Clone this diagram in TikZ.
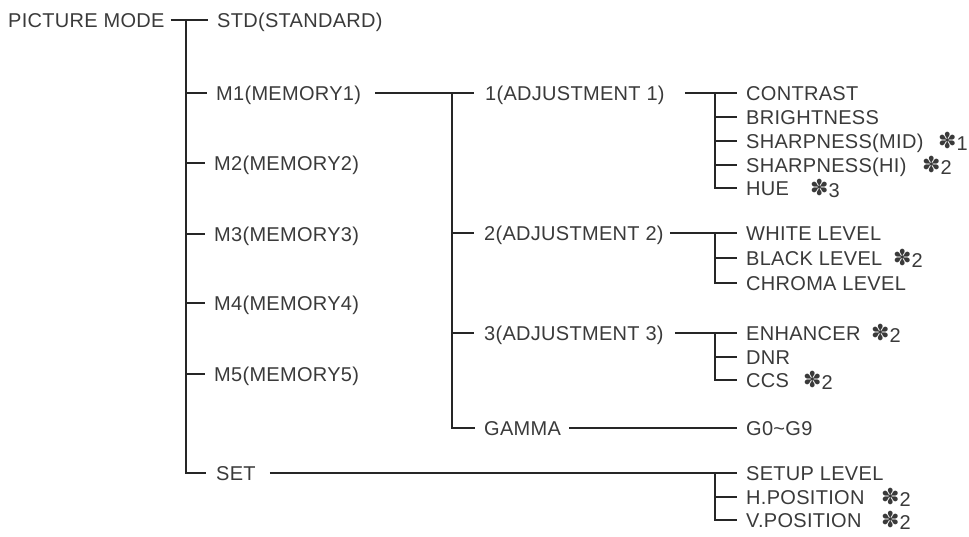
\documentclass[tikz,border=0pt]{standalone}
\usepackage{fontspec}
\setmainfont{Liberation Sans}[LetterSpace=1.5]
\newfontfamily\djv{DejaVu Sans}
\definecolor{txt}{HTML}{3A3A3A}
\tikzset{
  lbl/.style={anchor=west, inner xsep=0pt, inner ysep=0pt, text height=14pt, text depth=0pt,
    font=\fontsize{20}{21}\selectfont, text=txt},
  ln/.style={line width=1.2pt, draw=black!85},
}
\newcommand{\mk}[1]{{\fontsize{22}{22}\djv\raisebox{0pt}{✽}}\raisebox{-2.5pt}{#1}}
\begin{document}
\begin{tikzpicture}[x=1pt,y=-1pt]
\useasboundingbox (0,0) rectangle (969,536);
% level 0/1
\node[lbl] (pm) at (8,20) {PICTURE MODE};
\node[lbl] (std) at (217,20) {STD(STANDARD)};
\node[lbl] (m1) at (216,93) {M1(MEMORY1)};
\node[lbl] (m2) at (214,163) {M2(MEMORY2)};
\node[lbl] (m3) at (214,234) {M3(MEMORY3)};
\node[lbl] (m4) at (214,303) {M4(MEMORY4)};
\node[lbl] (m5) at (214,374) {M5(MEMORY5)};
\node[lbl] (set) at (216,473) {SET};
% level 2
\node[lbl] (adj1) at (485,93) {1(ADJUSTMENT 1)};
\node[lbl] (adj2) at (484,233) {2(ADJUSTMENT 2)};
\node[lbl] (adj3) at (484,333) {3(ADJUSTMENT 3)};
\node[lbl] (gam) at (484,428) {GAMMA};
% level 3
\node[lbl] (con) at (746,93) {CONTRAST};
\node[lbl] (bri) at (746,117) {BRIGHTNESS};
\node[lbl] (shm) at (746,141) {SHARPNESS(MID)};
\node[lbl] (shh) at (746,165) {SHARPNESS(HI)};
\node[lbl] (hue) at (746,188) {HUE};
\node[lbl] (wl) at (746,233) {WHITE LEVEL};
\node[lbl] (bl) at (746,258) {BLACK LEVEL};
\node[lbl] (cl) at (746,283) {CHROMA LEVEL};
\node[lbl] (enh) at (746,333) {ENHANCER};
\node[lbl] (dnr) at (746,357) {DNR};
\node[lbl] (ccs) at (746,380) {CCS};
\node[lbl] (g09) at (746,428) {G0\char"007E G9};
\node[lbl] (sul) at (746,473) {SETUP LEVEL};
\node[lbl] (hp) at (746,497) {H.POSITION};
\node[lbl] (vp) at (746,520) {V.POSITION};
% marks
\node[lbl] (k1) at (938,141) {\mk{1}};
\node[lbl] (k2) at (922,165) {\mk{2}};
\node[lbl] (k3) at (810,188) {\mk{3}};
\node[lbl] (k4) at (893,258) {\mk{2}};
\node[lbl] (k5) at (871,333) {\mk{2}};
\node[lbl] (k6) at (803,380) {\mk{2}};
\node[lbl] (k7) at (881,497) {\mk{2}};
\node[lbl] (k8) at (881,520) {\mk{2}};
% coordinates of vertical bars
\coordinate (v1) at (186,20);
\coordinate (v2) at (452,93);
\path (con.west) ++(-31,0) coordinate (va);
\path (wl.west) ++(-31,0) coordinate (vb);
\path (enh.west) ++(-31,0) coordinate (vc);
\path (sul.west) ++(-31,0) coordinate (vd);
% level 0 connectors
\draw[ln] ([xshift=6pt]pm.east) -- ([xshift=-9pt]std.west);
\draw[ln] (v1) |- ([xshift=-10pt]set.west);
\foreach \n in {m1,m2,m3,m4,m5}{
  \draw[ln] (v1 |- \n.west) -- ([xshift=-9pt]\n.west);
}
% level 1 connectors
\draw[ln] ([xshift=14pt]m1.east) -- ([xshift=-11pt]adj1.west);
\draw[ln] (v2) |- ([xshift=-9pt]gam.west);
\draw[ln] (v2 |- adj2.west) -- ([xshift=-10pt]adj2.west);
\draw[ln] (v2 |- adj3.west) -- ([xshift=-10pt]adj3.west);
\draw[ln] ([xshift=14pt]set.east) -- ([xshift=-9pt]sul.west);
% level 2 connectors
\draw[ln] ([xshift=20pt]adj1.east) -- ([xshift=-9pt]con.west);
\draw[ln] (va) |- ([xshift=-9pt]hue.west);
\foreach \n in {bri,shm,shh}{ \draw[ln] (va |- \n.west) -- ([xshift=-9pt]\n.west); }
\draw[ln] ([xshift=6pt]adj2.east) -- ([xshift=-9pt]wl.west);
\draw[ln] (vb) |- ([xshift=-9pt]cl.west);
\draw[ln] (vb |- bl.west) -- ([xshift=-9pt]bl.west);
\draw[ln] ([xshift=11pt]adj3.east) -- ([xshift=-9pt]enh.west);
\draw[ln] (vc) |- ([xshift=-9pt]ccs.west);
\draw[ln] (vc |- dnr.west) -- ([xshift=-9pt]dnr.west);
\draw[ln] ([xshift=8pt]gam.east) -- ([xshift=-9pt]g09.west);
\draw[ln] (vd) |- ([xshift=-9pt]vp.west);
\draw[ln] (vd |- hp.west) -- ([xshift=-9pt]hp.west);
\end{tikzpicture}
\end{document}
